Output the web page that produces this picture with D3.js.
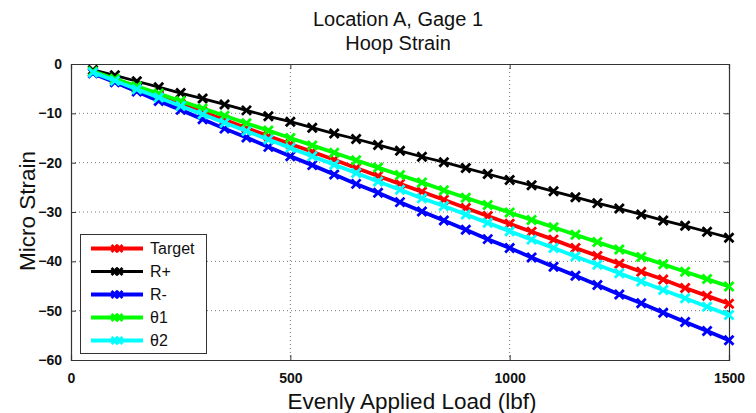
<!DOCTYPE html>
<html><head><meta charset="utf-8">
<script src="https://cdn.jsdelivr.net/npm/d3@7"></script>
<style>body{margin:0;background:#fff}svg{display:block}text{font-family:"Liberation Sans",Arial,sans-serif}</style>
</head><body><svg id="c" width="756" height="413"></svg>
<script>
const loads = [50,100,150,200,250,300,350,400,450,500,550,600,650,700,750,800,850,900,950,1000,1050,1100,1150,1200,1250,1300,1350,1400,1450,1500];
const target = [-1.6,-3.2,-4.9,-6.5,-8.1,-9.7,-11.3,-13.0,-14.6,-16.2,-17.8,-19.4,-21.1,-22.7,-24.3,-25.9,-27.5,-29.2,-30.8,-32.4,-34.0,-35.6,-37.3,-38.9,-40.5,-42.1,-43.7,-45.4,-47.0,-48.6];
const rPlus = [-1.2,-2.3,-3.5,-4.7,-5.9,-7.0,-8.2,-9.4,-10.6,-11.7,-12.9,-14.1,-15.2,-16.4,-17.6,-18.8,-19.9,-21.1,-22.3,-23.5,-24.6,-25.8,-27.0,-28.2,-29.3,-30.5,-31.7,-32.8,-34.0,-35.2];
const rMinus = [-1.9,-3.7,-5.6,-7.5,-9.3,-11.2,-13.1,-14.9,-16.8,-18.7,-20.5,-22.4,-24.3,-26.1,-28.0,-29.9,-31.7,-33.6,-35.5,-37.3,-39.2,-41.1,-42.9,-44.8,-46.7,-48.5,-50.4,-52.3,-54.1,-56.0];
const theta1 = [-1.5,-3.0,-4.5,-6.0,-7.5,-9.0,-10.5,-12.0,-13.5,-15.0,-16.5,-18.0,-19.5,-21.0,-22.5,-24.0,-25.6,-27.1,-28.6,-30.1,-31.6,-33.1,-34.6,-36.1,-37.6,-39.1,-40.6,-42.1,-43.6,-45.1];
const theta2 = [-1.7,-3.4,-5.1,-6.8,-8.5,-10.2,-11.9,-13.6,-15.3,-17.0,-18.7,-20.4,-22.1,-23.8,-25.5,-27.2,-28.8,-30.5,-32.2,-33.9,-35.6,-37.3,-39.0,-40.7,-42.4,-44.1,-45.8,-47.5,-49.2,-50.9];
const seriesNames = ["Target","R+","R-","\u03b81","\u03b82"];
const seriesColors = ["#ff0000","#000000","#0000ff","#00ff00","#00ffff"];
const xTicks = [0,500,1000,1500];
const yTicks = [0,-10,-20,-30,-40,-50,-60];

const seriesValues = [target,rPlus,rMinus,theta1,theta2];
const widths = [3.8,2.8,3.8,3.8,3.8];

const svg = d3.select("#c");
const L=71, R=729, T=64, B=360;
const x = d3.scaleLinear().domain([0,1500]).range([L,R]);
const y = d3.scaleLinear().domain([-60,0]).range([B,T]);

// grid
const g = svg.append("g");
g.selectAll(".gx").data(xTicks.slice(1,-1)).enter().append("line")
  .attr("x1",d=>x(d)).attr("x2",d=>x(d)).attr("y1",T).attr("y2",B)
  .attr("stroke","#555").attr("stroke-width",0.8).attr("stroke-dasharray","1,3");
g.selectAll(".gy").data(yTicks.slice(1,-1)).enter().append("line")
  .attr("y1",d=>y(d)).attr("y2",d=>y(d)).attr("x1",L).attr("x2",R)
  .attr("stroke","#555").attr("stroke-width",0.8).attr("stroke-dasharray","1,3");

// axes
const ax = svg.append("g").attr("transform",`translate(0,${B})`)
  .call(d3.axisBottom(x).tickValues(xTicks).tickSize(-5).tickPadding(13).tickFormat(d3.format("d")));
const axT = svg.append("g").attr("transform",`translate(0,${T})`)
  .call(d3.axisTop(x).tickValues(xTicks).tickSize(-5).tickFormat(""));
const ay = svg.append("g").attr("transform",`translate(${L},0)`)
  .call(d3.axisLeft(y).tickValues(yTicks).tickSize(-5).tickPadding(9).tickFormat(d3.format("d")));
const ayR = svg.append("g").attr("transform",`translate(${R},0)`)
  .call(d3.axisRight(y).tickValues(yTicks).tickSize(-5).tickFormat(""));
[ax,axT,ay,ayR].forEach(a=>{
  a.select(".domain").attr("stroke","#333").attr("stroke-width",1.2);
  a.selectAll(".tick line").attr("stroke","#333");
  a.selectAll("text").attr("font-size",14).attr("font-family","Liberation Sans, Arial, sans-serif").attr("font-weight","bold").attr("fill","#111");
});

// lines
const line = d3.line().x((d,i)=>x(loads[i])).y(d=>y(d));
const xs = 4.5;
seriesValues.forEach((vals,k)=>{
  const sg = svg.append("g");
  sg.append("path").datum(vals).attr("d",line).attr("fill","none")
    .attr("stroke",seriesColors[k]).attr("stroke-width",widths[k]).attr("stroke-linejoin","round");
  sg.selectAll("path.m").data(vals).enter().append("path").attr("class","m")
    .attr("d",(d,i)=>{const cx=x(loads[i]),cy=y(d);return `M${cx-xs},${cy-xs}L${cx+xs},${cy+xs}M${cx-xs},${cy+xs}L${cx+xs},${cy-xs}`;})
    .attr("stroke",seriesColors[k]).attr("stroke-width",2.8).attr("fill","none");
});

// legend
const lg = svg.append("g");
lg.append("rect").attr("x",80.5).attr("y",234.5).attr("width",126).attr("height",119)
  .attr("fill","#fff").attr("stroke","#333").attr("stroke-width",1);
seriesNames.forEach((n,k)=>{
  const ly = 248.5 + k*23;
  lg.append("line").attr("x1",91).attr("x2",143).attr("y1",ly).attr("y2",ly)
    .attr("stroke",seriesColors[k]).attr("stroke-width",widths[k]);
  [115,119].forEach(cx=>{
    lg.append("path").attr("d",`M${cx-3.5},${ly-3.5}L${cx+3.5},${ly+3.5}M${cx-3.5},${ly+3.5}L${cx+3.5},${ly-3.5}`)
      .attr("stroke",seriesColors[k]).attr("stroke-width",2.8);
  });
  lg.append("text").attr("x",150).attr("y",ly+5.5).attr("font-size",16).attr("fill","#111").text(n);
});

// titles
svg.append("text").attr("x",398).attr("y",26).attr("text-anchor","middle").attr("font-size",20).attr("fill","#111").text("Location A, Gage 1");
svg.append("text").attr("x",398).attr("y",50).attr("text-anchor","middle").attr("font-size",20).attr("fill","#111").text("Hoop Strain");
svg.append("text").attr("x",412).attr("y",409).attr("text-anchor","middle").attr("font-size",22.5).attr("fill","#111").text("Evenly Applied Load (lbf)");
svg.append("text").attr("transform","translate(35,211) rotate(-90)").attr("text-anchor","middle").attr("font-size",22.5).attr("fill","#111").text("Micro Strain");
</script></body></html>
